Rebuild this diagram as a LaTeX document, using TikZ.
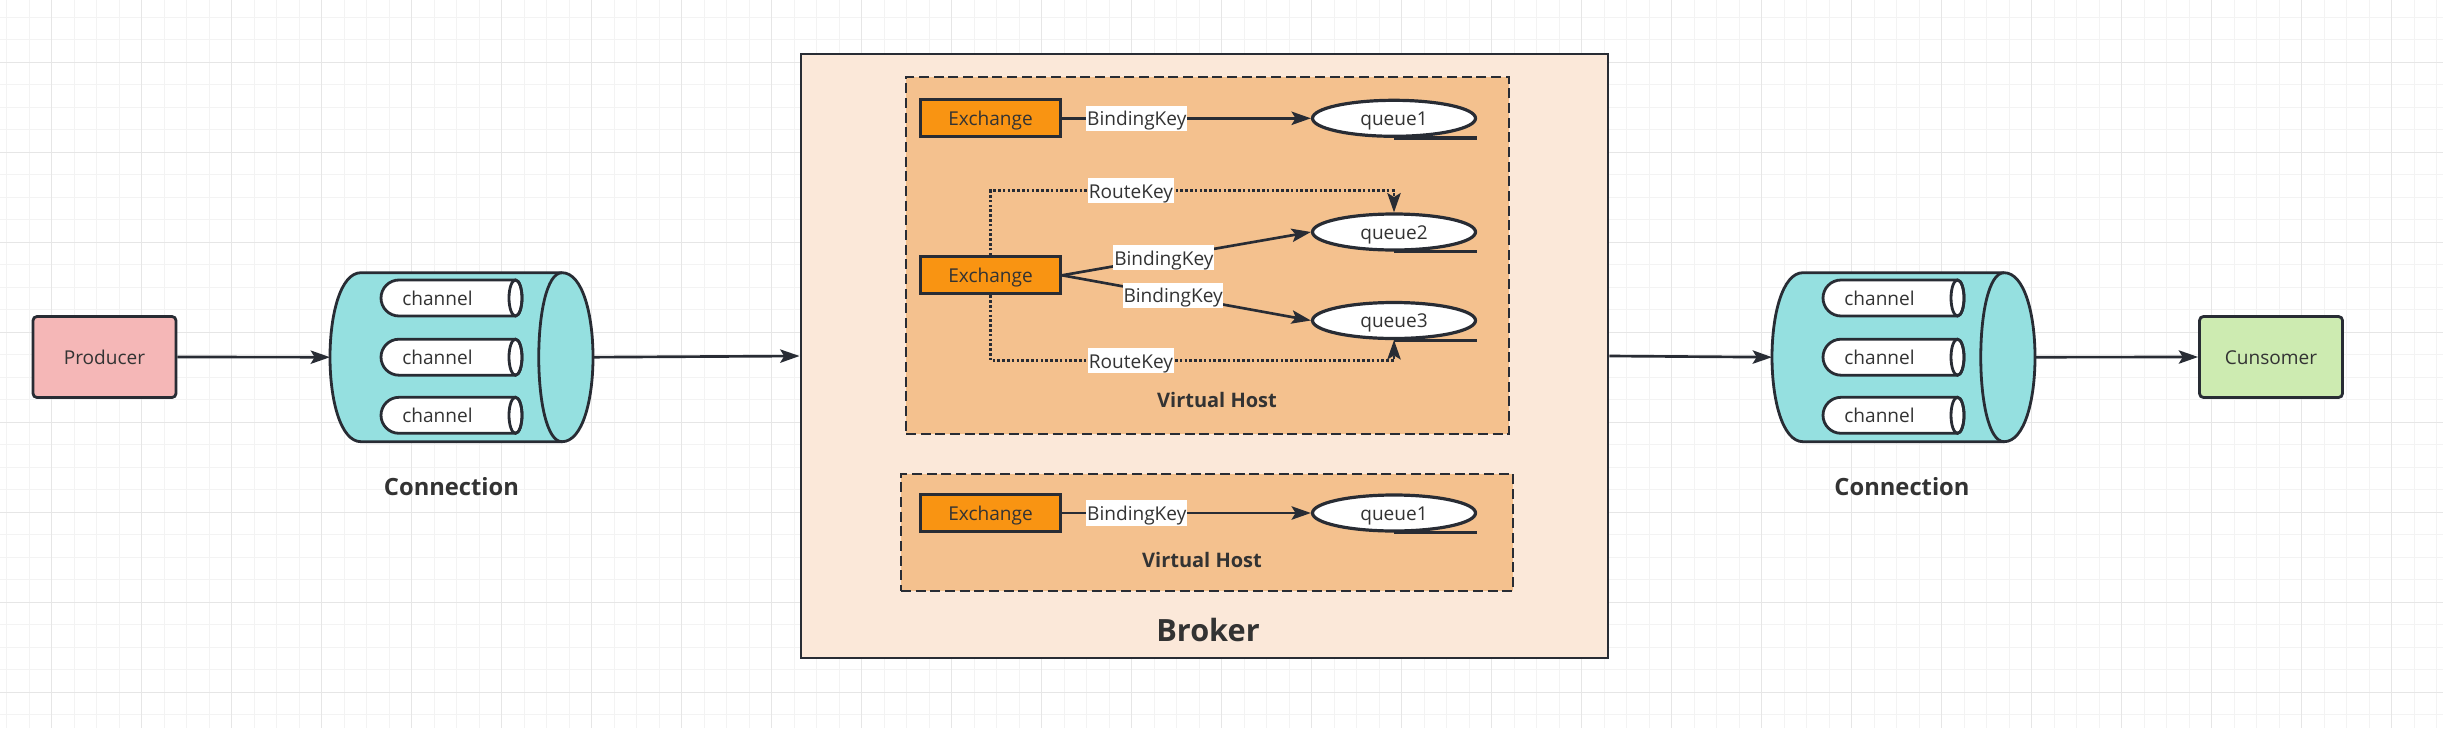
\documentclass[tikz,border=0pt]{standalone}
\usepackage{fontspec}
\setmainfont{Open Sans}
\usetikzlibrary{arrows.meta,shapes.geometric}
\definecolor{ink}{RGB}{40,44,52}
\definecolor{txt}{RGB}{51,51,51}
\definecolor{prodfill}{RGB}{245,183,183}
\definecolor{consfill}{RGB}{205,235,177}
\definecolor{cylfill}{RGB}{149,224,224}
\definecolor{brokerfill}{RGB}{251,232,217}
\definecolor{vhfill}{RGB}{244,193,142}
\definecolor{exfill}{RGB}{249,148,18}
\definecolor{gridminor}{RGB}{243,243,243}
\definecolor{gridmajor}{RGB}{230,230,230}
\newcommand\cylshape[4]{%
  \filldraw[cyl] ({#1+31},#3) -- ({#2-31},#3) .. controls ({#2+31/3},#3) and ({#2+31/3},#4) .. ({#2-31},#4) -- ({#1+31},#4) .. controls ({#1-31/3},#4) and ({#1-31/3},#3) .. ({#1+31},#3) -- cycle;
  \draw[cylline] ({#2-31},#3) .. controls ({#2-62},#3) and ({#2-62},#4) .. ({#2-31},#4);
}
\newcommand\chanshape[3]{%
  \filldraw[chan] ({#2},{#3-18}) -- ({#1+18},{#3-18}) .. controls ({#1+8.06},{#3-18}) and ({#1},{#3-9.94}) .. ({#1},{#3}) .. controls ({#1},{#3+9.94}) and ({#1+8.06},{#3+18}) .. ({#1+18},{#3+18}) -- ({#2},{#3+18}) .. controls ({#2+3.6},{#3+18}) and ({#2+6.5},{#3+9.94}) .. ({#2+6.5},{#3}) .. controls ({#2+6.5},{#3-9.94}) and ({#2+3.6},{#3-18}) .. ({#2},{#3-18}) -- cycle;
  \draw[chanline] ({#2},{#3}) ellipse [x radius=4.875pt, y radius=13.5pt];
}
\begin{document}
\begin{tikzpicture}[x=0.75pt,y=-0.75pt,
  sz/.style 2 args={minimum width=#1*0.75pt, minimum height=#2*0.75pt},
  normtxt/.style={font=\fontsize{14.3}{17}\selectfont, text=txt, inner sep=0pt, text height=11pt, text depth=0.5pt},
  box/.style={normtxt, draw=ink, line width=2.1pt, rounded corners=3pt},
  exch/.style={normtxt, draw=ink, fill=exfill, line width=2.4pt, sz={140}{37}},
  queue/.style={normtxt, ellipse, draw=ink, fill=white, line width=2.4pt, sz={163}{36}},
  qline/.style={draw=ink, line width=2.4pt},
  vhbox/.style={draw=ink, fill=vhfill, line width=2.2pt, dash pattern=on 7.5pt off 3.5pt, inner sep=0pt},
  cyl/.style={draw=ink, fill=cylfill, line width=2.1pt, line join=round},
  cylline/.style={draw=ink, line width=2.1pt},
  chan/.style={draw=ink, fill=white, line width=2.1pt, line join=round},
  chanline/.style={draw=ink, line width=2.1pt},
  edge/.style={draw=ink, line width=2pt, -{Stealth[length=14.5pt,width=10pt,inset=3pt]}},
  route/.style={edge, dash pattern=on 1.9pt off 1.7pt},
  lab/.style={fill=white, font=\fontsize{14.3}{17}\selectfont, text=txt, inner xsep=0.6pt, inner ysep=0.6pt, text height=14.5pt, text depth=3.2pt},
  conlab/.style={font=\bfseries\fontsize{17.8}{20}\selectfont, text=txt},
  vhlab/.style={font=\bfseries\fontsize{15}{18}\selectfont, text=txt},
  brokerlab/.style={font=\bfseries\fontsize{23}{28}\selectfont, text=txt},
  chantxt/.style={normtxt}
]
\useasboundingbox (0,0) rectangle (2443,728);
\fill[white] (0,0) rectangle (2443,728);
% grid
\foreach \k in {0,...,108} \draw[gridminor, line width=1pt] ({6.7+22.5*\k},0) -- ({6.7+22.5*\k},728);
\foreach \k in {0,...,31} \draw[gridminor, line width=1pt] (0,{17.3+22.5*\k}) -- (2443,{17.3+22.5*\k});
\foreach \k in {0,...,26} \draw[gridmajor, line width=1pt] ({51.7+90*\k},0) -- ({51.7+90*\k},728);
\foreach \k in {0,...,7} \draw[gridmajor, line width=1pt] (0,{62.7+90*\k}) -- (2443,{62.7+90*\k});

% producer / consumer
\node[box, fill=prodfill, sz={143}{81}] (prod) at (104.5,357) {Producer};
\node[box, fill=consfill, sz={143}{81}] (cons) at (2271,357) {Cunsomer};

% connections
\node[inner sep=0pt, outer sep=0pt, sz={263}{169}] (conn1) at (461.5,357.2) {};
\cylshape{330}{593}{272.7}{441.7}
\chanshape{381}{515.5}{298}
\chanshape{381}{515.5}{357.2}
\chanshape{381}{515.5}{415.3}
\node[chantxt] (c1a) at (437.5,298) {channel};
\node[chantxt] (c1b) at (437.5,357.2) {channel};
\node[chantxt] (c1c) at (437.5,415.3) {channel};
\node[conlab] (conlab1) at (451.5,487) {Connection};

\node[inner sep=0pt, outer sep=0pt, sz={263}{169}] (conn2) at (1903.5,357.2) {};
\cylshape{1772}{2035}{272.7}{441.7}
\chanshape{1823}{1957.5}{298}
\chanshape{1823}{1957.5}{357.2}
\chanshape{1823}{1957.5}{415.3}
\node[chantxt] (c2a) at (1879.5,298) {channel};
\node[chantxt] (c2b) at (1879.5,357.2) {channel};
\node[chantxt] (c2c) at (1879.5,415.3) {channel};
\node[conlab] (conlab2) at (1902,487) {Connection};

% broker
\node[draw=ink, fill=brokerfill, line width=2.2pt, inner sep=0pt, sz={807}{604}] (broker) at (1204.5,356) {};
\node[brokerlab] (brokerlab) at (1208,630) {Broker};

% virtual host 1
\node[vhbox, sz={603}{357}] (vh1) at (1207.5,255.5) {};
\node[vhlab] (vh1lab) at (1217,400) {Virtual Host};
\node[exch] (ex1) at (990.5,118.3) {Exchange};
\node[exch] (ex2) at (990.5,275.3) {Exchange};
\node[queue] (q1) at (1394,118.3) {queue1};
\node[queue] (q2) at (1394,232) {queue2};
\node[queue] (q3) at (1394,320.5) {queue3};
\draw[qline] (q1.south) -- (q1.south -| q1.east);
\draw[qline] (q2.south) -- (q2.south -| q2.east);
\draw[qline] (q3.south) -- (q3.south -| q3.east);

\draw[edge] (ex1.east) -- node[lab, pos=0.30] {BindingKey} (q1.west);
\draw[edge] (ex2.east) -- node[lab, pos=0.409] {BindingKey} (q2.west);
\draw[edge] (ex2.east) -- node[lab, pos=0.446] {BindingKey} (q3.west);
\coordinate (rt) at (1394,190.7);
\coordinate (rb) at (1394,360.5);
\draw[route] (ex2.north) |- node[lab, pos=0.674] {RouteKey} (rt) -- (q2.north);
\draw[route] (ex2.south) |- node[lab, pos=0.674] {RouteKey} (rb) -- (q3.south);

% virtual host 2
\node[vhbox, sz={612}{117}] (vh2) at (1207,532.5) {};
\node[vhlab] (vh2lab) at (1202,560) {Virtual Host};
\node[exch] (ex3) at (990.5,513) {Exchange};
\node[queue] (q4) at (1394,513) {queue1};
\draw[qline] (q4.south) -- (q4.south -| q4.east);
\draw[edge] (ex3.east) -- node[lab, pos=0.30] {BindingKey} (q4.west);

% main flow
\draw[edge] (prod.east) -- (conn1.west);
\draw[edge] (conn1.east) -- (broker.west);
\draw[edge] (broker.east) -- (conn2.west);
\draw[edge] (conn2.east) -- (cons.west);
\end{tikzpicture}
\end{document}
